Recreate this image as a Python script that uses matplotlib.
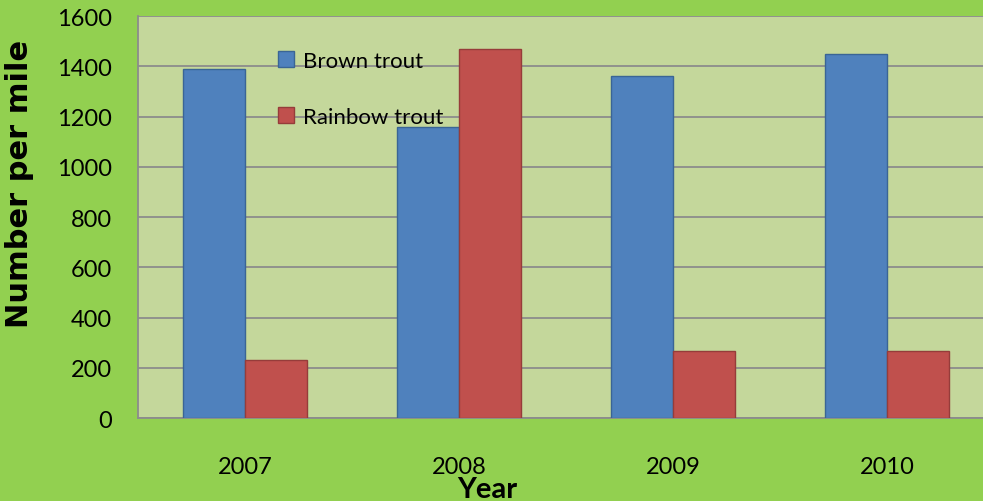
import matplotlib
matplotlib.use("Agg")
import matplotlib.pyplot as plt
import numpy as np

plt.rcParams["font.family"] = ["Lato", "DejaVu Sans"]

years = ["2007", "2008", "2009", "2010"]
brown = [1390, 1160, 1360, 1450]
rainbow = [230, 1470, 265, 265]

BLUE = "#4F81BD"
RED = "#C0504D"
OUTER = "#92D050"
INNER = "#C4D79B"
GRID = "#8C8C8C"

fig = plt.figure(figsize=(9.83, 5.02), dpi=100, facecolor=OUTER)
W, H = 983, 502
ax = fig.add_axes([138 / W, 1 - 419 / H, 856 / W, (419 - 17) / H])
ax.set_facecolor(INNER)

x = np.arange(len(years))
bw = 0.29
ax.bar(x - bw / 2, brown, bw, color=BLUE, edgecolor="#3A6595", linewidth=1.0,
       label="Brown trout", zorder=3)
ax.bar(x + bw / 2, rainbow, bw, color=RED, edgecolor="#963C3A", linewidth=1.0,
       label="Rainbow trout", zorder=3)

ax.set_xlim(-0.5, len(years) - 0.5)
ax.set_ylim(0, 1600)
ax.set_yticks(range(0, 1601, 200))
ax.set_xticks(x)
ax.set_xticklabels(years)
ax.tick_params(axis="both", length=0, labelsize=17)
ax.tick_params(axis="y", pad=19)
ax.tick_params(axis="x", pad=27)
ax.grid(axis="y", color=GRID, linewidth=1.3, zorder=1)
ax.set_axisbelow(True)
for s in ["top", "right"]:
    ax.spines[s].set_visible(False)
for s in ["left", "bottom"]:
    ax.spines[s].set_color(GRID)
    ax.spines[s].set_linewidth(1.3)

# axis titles, placed by hand to sit where the original has them
ax.set_ylabel("Number per mile", fontsize=22, fontweight="bold",
              family=["DejaVu Sans"])
ax.yaxis.set_label_coords(-104 / 856, 0.585)
ax.set_xlabel("Year", fontsize=21, fontweight="bold")
ax.xaxis.set_label_coords(0.408, -58 / 402)

leg = ax.legend(loc="upper left", bbox_to_anchor=(0.1636, 0.913), frameon=False,
                fontsize=16, labelspacing=1.62, handlelength=0.72, handleheight=0.72,
                handletextpad=0.4, borderpad=0, borderaxespad=0)

fig.savefig("out.png", dpi=100, facecolor=OUTER)
